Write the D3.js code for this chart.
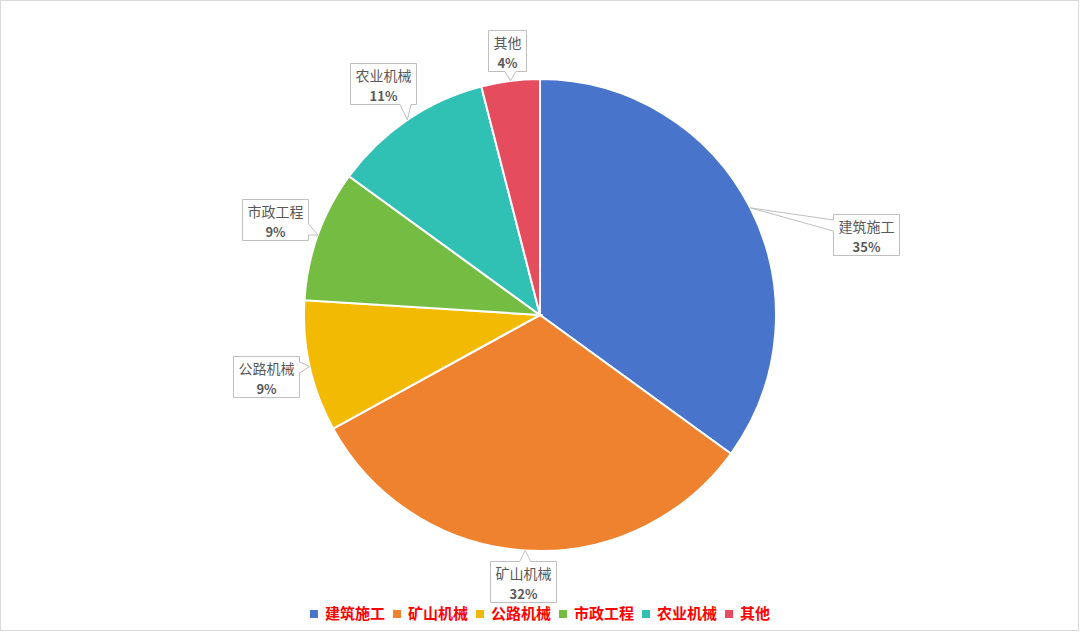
<!DOCTYPE html>
<html>
<head>
<meta charset="utf-8">
<script src="https://cdn.jsdelivr.net/npm/d3@7/dist/d3.min.js"></script>
<style>
  body { margin: 0; background: #fff; }
  svg { display: block; }
</style>
</head>
<body>
<svg id="chart"></svg>
<script>
const categories = ["建筑施工", "矿山机械", "公路机械", "市政工程", "农业机械", "其他"];
const values = [35, 32, 9, 9, 11, 4];
const colors = ["#4874CB", "#EE822F", "#F2BA02", "#75BD42", "#30C0B4", "#E54C5E"];
// label boxes sit outside each slice; the first one was dragged aside in the original
const labelNudge = [[74, 48], [0, 0], [0, 0], [0, 0], [0, 0], [0, 0]];

const width = 1080, height = 632;
const cx = 540, cy = 315, radius = 236;
const fontFamily = "'Noto Sans CJK SC', 'Noto Sans', sans-serif";

const svg = d3.select("#chart")
  .attr("width", width)
  .attr("height", height);

// frame
svg.append("rect")
  .attr("x", 0.5).attr("y", 0.5)
  .attr("width", width - 2).attr("height", height - 2)
  .attr("fill", "#fff")
  .attr("stroke", "#d9d9d9");

const data = categories.map((c, i) => ({ key: c, value: values[i], i: i }));
const total = d3.sum(values);

const pie = d3.pie().sort(null).value(d => d.value);
const arcs = pie(data);

const arcGen = d3.arc().innerRadius(0).outerRadius(radius);

const g = svg.append("g").attr("transform", "translate(" + cx + "," + cy + ")");

g.selectAll("path.slice")
  .data(arcs)
  .enter()
  .append("path")
    .attr("class", "slice")
    .attr("d", arcGen)
    .attr("fill", d => colors[d.index])
    .attr("stroke", "#fff")
    .style("stroke-width", "2");

// callout labels
const labels = svg.append("g");

arcs.forEach(function(d) {
  const mid = (d.startAngle + d.endAngle) / 2;
  const sx = Math.sin(mid), sy = -Math.cos(mid);
  const tipX = cx + radius * sx, tipY = cy + radius * sy;

  const lg = labels.append("g");
  const t1 = lg.append("text")
    .attr("text-anchor", "middle")
    .style("font-family", fontFamily)
    .style("font-size", "14px")
    .attr("fill", "#595959")
    .text(d.data.key);
  const t2 = lg.append("text")
    .attr("text-anchor", "middle")
    .style("font-family", fontFamily)
    .style("font-size", "13px")
    .style("font-weight", "bold")
    .attr("fill", "#595959")
    .text(Math.round(d.data.value / total * 100) + "%");

  const tw = Math.max(t1.node().getComputedTextLength(), t2.node().getComputedTextLength());
  const bw = Math.round(tw + 10), bh = 41;
  const extent = bw / 2 * Math.abs(sx) + bh / 2 * Math.abs(sy);
  const dist = radius + 8 + extent;
  const bx = cx + dist * sx + labelNudge[d.index][0];
  const by = cy + dist * sy + labelNudge[d.index][1];

  const left = Math.round(bx - bw / 2) + 0.5, right = left + bw;
  const top = Math.round(by - bh / 2) + 0.5, bottom = top + bh;

  // which side the pointer leaves from
  const outs = { left: left - tipX, right: tipX - right, top: top - tipY, bottom: tipY - bottom };
  let side = "bottom", best = -Infinity;
  for (const k in outs) { if (outs[k] > best) { best = outs[k]; side = k; } }

  const hw = 5.5, pad = 11;
  const clampX = Math.max(left + pad, Math.min(right - pad, tipX));
  const clampY = Math.max(top + pad, Math.min(bottom - pad, tipY));

  const p = d3.path();
  p.moveTo(left, top);
  if (side === "top") {
    p.lineTo(clampX - hw, top); p.lineTo(tipX, tipY); p.lineTo(clampX + hw, top);
  }
  p.lineTo(right, top);
  if (side === "right") {
    p.lineTo(right, clampY - hw); p.lineTo(tipX, tipY); p.lineTo(right, clampY + hw);
  }
  p.lineTo(right, bottom);
  if (side === "bottom") {
    p.lineTo(clampX + hw, bottom); p.lineTo(tipX, tipY); p.lineTo(clampX - hw, bottom);
  }
  p.lineTo(left, bottom);
  if (side === "left") {
    p.lineTo(left, clampY + hw); p.lineTo(tipX, tipY); p.lineTo(left, clampY - hw);
  }
  p.closePath();

  lg.insert("path", "text")
    .attr("d", p.toString())
    .attr("fill", "#fff")
    .attr("stroke", "#bfbfbf")
    .style("stroke-width", "1");

  const mx = (left + right) / 2;
  t1.attr("x", mx).attr("y", top + 17);
  t2.attr("x", mx).attr("y", top + 37);
});

// legend
const legend = svg.append("g");
const items = legend.selectAll("g")
  .data(data)
  .enter()
  .append("g");

items.append("rect")
  .attr("width", 8).attr("height", 8)
  .attr("y", -4)
  .attr("fill", d => colors[d.i]);

items.append("text")
  .attr("x", 15)
  .attr("dy", "0.35em")
  .style("font-family", fontFamily)
  .style("font-size", "15px")
  .style("font-weight", "bold")
  .attr("fill", "#FF0000")
  .text(d => d.key);

let xpos = 0;
items.each(function() {
  const w = this.querySelector("text").getComputedTextLength();
  d3.select(this).attr("transform", "translate(" + xpos + ",0)");
  xpos += 15 + w + 8;
});
const legendW = xpos - 8;
legend.attr("transform", "translate(" + (cx - legendW / 2) + ",614)");
</script>
</body>
</html>
